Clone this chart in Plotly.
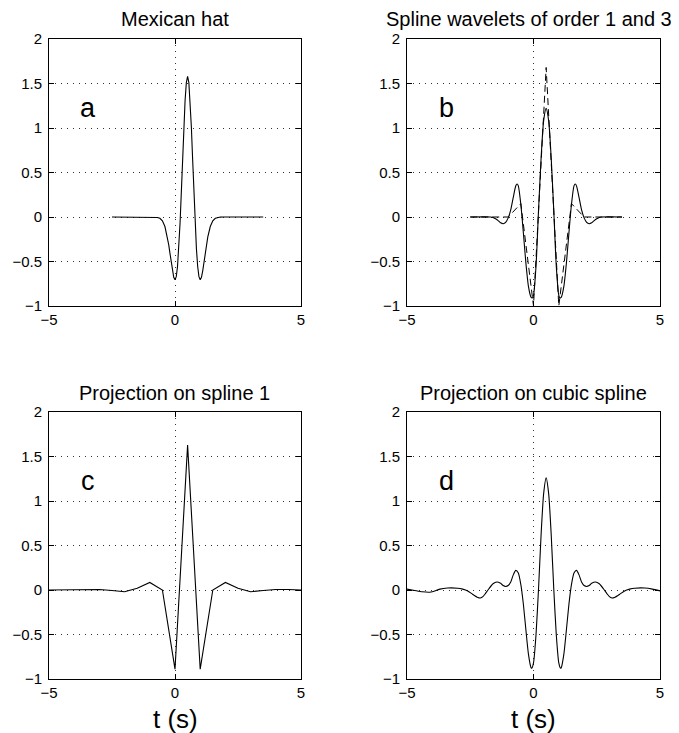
import plotly.graph_objects as go

# ---------------- data ----------------
mex_t = [-2.5, -1.5, -1.0, -0.9, -0.8, -0.7, -0.6, -0.5, -0.4, -0.3, -0.25, -0.2, -0.15, -0.1, -0.05,
         0.0, 0.05, 0.1, 0.15, 0.2, 0.25, 0.3, 0.35, 0.4, 0.45, 0.5, 0.55, 0.6, 0.65, 0.7, 0.75,
         0.8, 0.85, 0.9, 0.95, 1.0, 1.05, 1.1, 1.15, 1.2, 1.25, 1.3, 1.4, 1.5, 1.6, 1.7, 1.8,
         1.9, 2.0, 2.5, 3.5]
mex_y = [0.0, 0.0, 0.0, 0.0, -0.001, -0.005, -0.015, -0.043, -0.107, -0.227, -0.311, -0.408, -0.510, -0.605, -0.677,
         -0.705, -0.670, -0.557, -0.356, -0.074, 0.271, 0.646, 1.008, 1.31, 1.51, 1.58, 1.51, 1.31, 1.008, 0.646, 0.271,
         -0.074, -0.356, -0.557, -0.670, -0.705, -0.677, -0.605, -0.510, -0.408, -0.311, -0.227, -0.107, -0.043, -0.015, -0.005, -0.001,
         0.0, 0.0, 0.0, 0.0]

spl3_t = [-2.5, -1.7, -1.6, -1.5, -1.4, -1.3, -1.2, -1.1, -1.0, -0.9, -0.8, -0.7, -0.65, -0.6, -0.5,
          -0.4, -0.3, -0.2, -0.1, -0.05, 0.0, 0.1, 0.2, 0.3, 0.4, 0.5, 0.6, 0.7, 0.8, 0.9, 1.0,
          1.05, 1.1, 1.2, 1.3, 1.4, 1.5, 1.6, 1.65, 1.7, 1.8, 1.9, 2.0, 2.1, 2.2, 2.3, 2.4, 2.5,
          2.6, 2.7, 3.5]
spl3_y = [0.0, 0.0, -0.005, -0.02, -0.04, -0.065, -0.075, -0.06, -0.01, 0.08, 0.22, 0.35, 0.37, 0.35, 0.14,
          -0.18, -0.52, -0.78, -0.90, -0.91, -0.88, -0.55, 0.08, 0.66, 1.08, 1.22, 1.08, 0.66, 0.08, -0.55, -0.88,
          -0.91, -0.90, -0.78, -0.52, -0.18, 0.14, 0.35, 0.37, 0.35, 0.22, 0.08, -0.01, -0.06, -0.075, -0.065, -0.04, -0.02,
          -0.005, 0.0, 0.0]

spl1_t = [-2.5, -1.0, -0.5, 0.0, 0.5, 1.0, 1.5, 2.0, 3.5]
spl1_y = [0.0, 0.0, 0.15, -1.0, 1.68, -1.0, 0.15, 0.0, 0.0]

proj1_t = [-5.0, -4.0, -3.5, -3.0, -2.5, -2.0, -1.5, -1.0, -0.5, 0.0, 0.5, 1.0, 1.5, 2.0, 2.5, 3.0, 3.5, 4.0, 4.5, 5.0]
proj1_y = [0.0, 0.0, 0.005, 0.005, -0.005, -0.02, 0.02, 0.085, 0.0, -0.89, 1.63, -0.89, 0.0, 0.085, 0.02, -0.02, -0.005, 0.005, 0.005, 0.0]

proj3_t = [-5.0, -4.7, -4.4, -4.1, -4.0, -3.7, -3.4, -3.0, -2.8, -2.6, -2.4, -2.2, -2.1, -2.0, -1.9, -1.8,
           -1.6, -1.45, -1.3, -1.2, -1.1, -1.0, -0.9, -0.8, -0.7, -0.6, -0.5, -0.4, -0.3, -0.2, -0.1,
           -0.07, 0.0, 0.1, 0.2, 0.3, 0.4, 0.5, 0.6, 0.7, 0.8, 0.9, 1.0, 1.07, 1.1, 1.2, 1.3, 1.4,
           1.5, 1.6, 1.7, 1.8, 1.9, 2.0, 2.1, 2.2, 2.3, 2.45, 2.6, 2.8, 2.9, 3.0, 3.1, 3.2, 3.4,
           3.6, 3.8, 4.0, 4.4, 4.7, 5.0]
proj3_y = [0.01, -0.005, -0.02, -0.025, -0.02, 0.01, 0.022, 0.02, 0.01, -0.01, -0.05, -0.085, -0.09, -0.075, -0.04, 0.0,
           0.07, 0.09, 0.075, 0.05, 0.04, 0.05, 0.09, 0.17, 0.22, 0.19, 0.06, -0.16, -0.45, -0.72, -0.87,
           -0.88, -0.82, -0.5, 0.02, 0.62, 1.08, 1.26, 1.08, 0.62, 0.02, -0.5, -0.82, -0.88, -0.87, -0.72, -0.45, -0.16,
           0.06, 0.19, 0.22, 0.17, 0.09, 0.05, 0.04, 0.05, 0.075, 0.09, 0.07, 0.0, -0.04, -0.075, -0.09, -0.085, -0.05,
           -0.01, 0.01, 0.02, 0.022, 0.01, -0.01]

titles = ["Mexican hat", "Spline wavelets of order 1 and 3", "Projection on spline 1", "Projection on cubic spline"]
panel_letters = ["a", "b", "c", "d"]
x_ticks = [-5, 0, 5]
y_ticks = [-1, -0.5, 0, 0.5, 1, 1.5, 2]
xlabel = "t (s)"

# ---------------- layout geometry ----------------
W, H = 679, 733
OX, OY = 8, 8   # page body margin offset of the figure inside the window
FONT = "Liberation Sans, Arial, Helvetica, sans-serif"

def px(x):
    return (x - OX) / W

def py(y):
    return 1 - (y - OY) / H

x_dom = [[px(49), px(301)], [px(407), px(660)], [px(49), px(301)], [px(407), px(660)]]
y_dom = [[py(306), py(39)], [py(306), py(39)], [py(679), py(412)], [py(679), py(412)]]

fig = go.Figure()
line = dict(color="black", width=1.1)

fig.add_trace(go.Scatter(x=mex_t, y=mex_y, mode="lines", line=line, xaxis="x", yaxis="y"))
fig.add_trace(go.Scatter(x=spl3_t, y=spl3_y, mode="lines", line=dict(color="black", width=1.1, shape="spline", smoothing=0.6), xaxis="x2", yaxis="y2"))
fig.add_trace(go.Scatter(x=spl1_t, y=spl1_y, mode="lines", line=dict(color="black", width=1, dash="7px,4px"), xaxis="x2", yaxis="y2"))
fig.add_trace(go.Scatter(x=proj1_t, y=proj1_y, mode="lines", line=line, xaxis="x3", yaxis="y3"))
fig.add_trace(go.Scatter(x=proj3_t, y=proj3_y, mode="lines", line=dict(color="black", width=1.1, shape="spline", smoothing=0.6), xaxis="x4", yaxis="y4"))

common = dict(showline=True, linecolor="black", linewidth=1, mirror="ticks", ticks="inside", ticklen=5,
              tickcolor="black", showgrid=True, gridcolor="#333", gridwidth=1, griddash="1px,5px",
              zeroline=False, fixedrange=True, automargin=False,
              tickfont=dict(family=FONT, size=15, color="black"))

layout = dict(template="none", width=W, height=H, margin=dict(l=0, r=0, t=0, b=0, pad=0),
              showlegend=False, plot_bgcolor="white", paper_bgcolor="white")
for i in range(4):
    s = "" if i == 0 else str(i + 1)
    layout["xaxis" + s] = dict(common, domain=x_dom[i], range=[-5, 5], tickvals=x_ticks,
                               anchor="y" + s)
    layout["yaxis" + s] = dict(common, domain=y_dom[i], range=[-1, 2], tickvals=y_ticks,
                               anchor="x" + s, ticklabelstandoff=3)
fig.update_layout(**layout)

ann = []
title_y = [19, 19, 393, 393]
title_x = [175, 529, 174, 533]
for i in range(4):
    ann.append(dict(text=titles[i], x=px(title_x[i]), y=py(title_y[i]), xref="paper", yref="paper",
                    xanchor="center", yanchor="middle", showarrow=False,
                    font=dict(family=FONT, size=20, color="black")))
    s = "" if i == 0 else str(i + 1)
    ann.append(dict(text=panel_letters[i], x=-3.45, y=1.22, xref="x" + s, yref="y" + s,
                    xanchor="center", yanchor="middle", showarrow=False,
                    font=dict(family=FONT, size=27, color="black")))
for cx in (175, 533):
    ann.append(dict(text=xlabel, x=px(cx), y=py(719), xref="paper", yref="paper",
                    xanchor="center", yanchor="middle", showarrow=False,
                    font=dict(family=FONT, size=26, color="black")))
fig.update_layout(annotations=ann)

fig.write_html("out.html")
